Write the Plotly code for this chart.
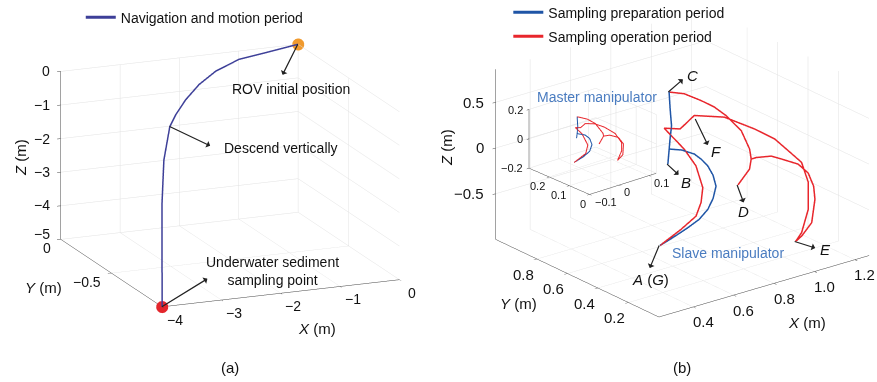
import plotly.graph_objects as go

# ---------------- panel (a): ROV navigation (m) ----------------
nav_x = [0.0, -0.646, -1.176, -1.765, -2.294, -2.812, -3.281, -3.622, -3.85, -3.95, -4.0]
nav_y = [0.0, -0.059, -0.105, -0.221, -0.366, -0.538, -0.714, -0.855, -0.93, -0.97, -1.0]
nav_z = [0.0, 0.0, 0.0, 0.0, 0.0, 0.0, 0.0, 0.0, -0.8, -2.0, -5.0]
rov_start = [0.0, 0.0, 0.0]
sample_pt = [-4.0, -1.0, -5.0]
descend_pt = [-3.622, -0.855, 0.0]

# ---------------- panel (b): slave manipulator (m) ----------------
prep_x = [0.386, 0.465, 0.557, 0.629, 0.691, 0.738, 0.775, 0.781, 0.772, 0.752,
          0.728, 0.674, 0.613, 0.578, 0.613, 0.636, 0.668, 0.693, 0.7195]
prep_y = [0.2, 0.22, 0.244, 0.265, 0.29, 0.3175, 0.3475, 0.375, 0.398, 0.415,
          0.4275, 0.4375, 0.44, 0.4025, 0.44, 0.465, 0.4975, 0.54, 0.5818]
prep_z = [-0.478, -0.458, -0.429, -0.401, -0.351, -0.282, -0.198, -0.103, -0.013, 0.060,
          0.121, 0.192, 0.240, 0.127, 0.240, 0.315, 0.412, 0.549, 0.682]

op_x = [0.7195, 0.791, 0.861, 0.914, 0.957, 1.004, 1.011, 1.000, 0.973, 0.886,
        0.973, 1.000, 1.028, 1.105, 1.150, 1.223, 1.256, 1.258, 1.240, 1.180,
        1.105, 1.065, 1.112, 1.188, 1.239, 1.243, 1.199, 1.154, 1.073, 0.946,
        0.800, 0.705, 0.627, 0.687, 0.714, 0.707, 0.671, 0.620, 0.520, 0.386]
op_y = [0.5818, 0.5775, 0.5608, 0.545, 0.5233, 0.4858, 0.44, 0.415, 0.39, 0.3508,
        0.39, 0.415, 0.4188, 0.4225, 0.415, 0.4025, 0.38, 0.3475, 0.315, 0.2568,
        0.2233, 0.21, 0.2325, 0.29, 0.3575, 0.4068, 0.4358, 0.465, 0.49, 0.5193,
        0.5233, 0.49, 0.4918, 0.44, 0.3983, 0.3443, 0.3075, 0.2733, 0.24, 0.2]
op_z = [0.682, 0.621, 0.515, 0.424, 0.318, 0.153, -0.017, -0.100, -0.172, -0.258,
        -0.172, -0.100, -0.104, -0.141, -0.196, -0.289, -0.391, -0.509, -0.615, -0.786,
        -0.858, -0.880, -0.830, -0.672, -0.461, -0.286, -0.153, -0.019, 0.123, 0.311,
        0.420, 0.361, 0.418, 0.192, 0.024, -0.166, -0.275, -0.366, -0.421, -0.478]

# key points of the slave trajectory
key_pts = {
    "A": (0.386, 0.2, -0.478),
    "B": (0.578, 0.4025, 0.127),
    "C": (0.7195, 0.5818, 0.682),
    "D": (0.886, 0.3508, -0.258),
    "E": (1.065, 0.21, -0.880),
    "F": (0.800, 0.5233, 0.420),
}

# ---------------- inset: master manipulator (m) ----------------
mprep_x = [-0.043, -0.013, 0.009, 0.017, 0.009, -0.006, -0.033, -0.035, -0.033, -0.031, -0.033]
mprep_y = [0.16] * 11
mprep_z = [-0.114, -0.096, -0.072, -0.031, 0.016, 0.049, 0.076, 0.046, 0.076, 0.120, 0.191]

mop_x = [-0.033, 0.001, 0.028, 0.054, 0.056, 0.041, 0.056, 0.077, 0.106, 0.123, 0.121, 0.103,
         0.117, 0.117, 0.095, 0.059, 0.027, -0.006, -0.021, -0.039, -0.017, 0.003, -0.004, -0.043]
mop_y = [0.16] * 24
mop_z = [0.191, 0.153, 0.106, 0.023, 0.002, -0.042, 0.002, -0.005, -0.039, -0.094, -0.166, -0.194,
         -0.137, -0.082, -0.005, 0.061, 0.104, 0.127, 0.109, 0.121, 0.065, -0.024, -0.078, -0.114]

# axis ranges, ticks and tick labels
a_xr, a_yr, a_zr = [-4, 0], [-1, 0], [-5, 0]
a_xticks, a_xlab = [-4, -3, -2, -1, 0], ["−4", "−3", "−2", "−1", "0"]
a_yticks, a_ylab = [-0.5, 0], ["−0.5", "0"]
a_zticks, a_zlab = [-5, -4, -3, -2, -1, 0], ["−5", "−4", "−3", "−2", "−1", "0"]

b_xr, b_yr, b_zr = [0.23, 1.27], [0, 1.07], [-1, 0.86]
b_xticks, b_xlab = [0.4, 0.6, 0.8, 1.0, 1.2], ["0.4", "0.6", "0.8", "1.0", "1.2"]
b_yticks, b_ylab = [0.2, 0.4, 0.6, 0.8], ["0.2", "0.4", "0.6", "0.8"]
b_zticks, b_zlab = [-0.5, 0, 0.5], ["−0.5", "0", "0.5"]

m_xr, m_yr, m_zr = [-0.1, 0.125], [0, 0.3], [-0.2, 0.2]
m_xticks, m_xlab = [-0.1, 0, 0.1], ["−0.1", "0", "0.1"]
m_yticks, m_ylab = [0, 0.1, 0.2], ["0", "0.1", "0.2"]
m_zticks, m_zlab = [-0.2, 0, 0.2], ["−0.2", "0", "0.2"]

FONT = "Liberation Sans, Arial, sans-serif"
NAV_COL = "#3d3f98"
BLUE = "#1f55a6"
RED = "#e8262c"
TXT_BLUE = "#4a7cc0"

fig = go.Figure()

fig.add_trace(go.Scatter3d(x=nav_x, y=nav_y, z=nav_z, mode="lines",
                           line=dict(color=NAV_COL, width=3),
                           name="Navigation and motion period", scene="scene", legend="legend"))
fig.add_trace(go.Scatter3d(x=[rov_start[0]], y=[rov_start[1]], z=[rov_start[2]], mode="markers",
                           marker=dict(size=7, color="#f09a2e"), showlegend=False, scene="scene"))
fig.add_trace(go.Scatter3d(x=[sample_pt[0]], y=[sample_pt[1]], z=[sample_pt[2]], mode="markers",
                           marker=dict(size=7, color="#e3262c"), showlegend=False, scene="scene"))

fig.add_trace(go.Scatter3d(x=prep_x, y=prep_y, z=prep_z, mode="lines",
                           line=dict(color=BLUE, width=3),
                           name="Sampling preparation period", scene="scene2", legend="legend2"))
fig.add_trace(go.Scatter3d(x=op_x, y=op_y, z=op_z, mode="lines",
                           line=dict(color=RED, width=3),
                           name="Sampling operation period", scene="scene2", legend="legend3"))

fig.add_trace(go.Scatter3d(x=mprep_x, y=mprep_y, z=mprep_z, mode="lines",
                           line=dict(color=BLUE, width=2), showlegend=False, scene="scene3"))
fig.add_trace(go.Scatter3d(x=mop_x, y=mop_y, z=mop_z, mode="lines",
                           line=dict(color=RED, width=2), showlegend=False, scene="scene3"))


def ax3(rng, tickvals, ticklen=4):
    return dict(range=rng, autorange=False, tickvals=tickvals, showticklabels=False,
                showbackground=False, showgrid=True, gridcolor="#e2e2e2", gridwidth=1,
                showline=True, linecolor="#444", linewidth=1, zeroline=False,
                ticks="outside", ticklen=ticklen, tickcolor="#444",
                showspikes=False, title=dict(text=""))


def cam(d, r, shift):
    c = dict(x=shift[0], y=shift[1], z=shift[2])
    e = dict(x=d[0] * r + shift[0], y=d[1] * r + shift[1], z=d[2] * r + shift[2])
    return dict(eye=e, center=c, up=dict(x=0, y=0, z=1), projection=dict(type="orthographic"))


def arrow(p, ax, ay, standoff=0):
    return dict(x=p[0], y=p[1], z=p[2], text="", showarrow=True, ax=ax, ay=ay,
                arrowside="start", arrowhead=2, arrowsize=1, arrowwidth=1.2,
                arrowcolor="#222", standoff=standoff)


def label(p, text, xs, ys, size=14, anchor="center", color="#111"):
    return dict(x=p[0], y=p[1], z=p[2], text=text, showarrow=False, xshift=xs, yshift=ys,
                xanchor=anchor, font=dict(family=FONT, size=size, color=color))


def tick_labels(axis, vals, texts, fixed, xs, ys, anchor, size, extra=None):
    out = []
    for i, (v, t) in enumerate(zip(vals, texts)):
        p = list(fixed)
        p["xyz".index(axis)] = v
        dy = extra[i] if extra else 0
        out.append(label(p, t, xs, ys + dy, size, anchor))
    return out


a_ann = (
    tick_labels("x", a_xticks, a_xlab, [0, a_yr[0], a_zr[0]], 13, -13, "center", 14)
    + tick_labels("y", a_yticks, a_ylab, [a_xr[0], 0, a_zr[0]], -8, -9, "right", 14)
    + tick_labels("z", a_zticks, a_zlab, [a_xr[0], a_yr[1], 0], -9, 0, "right", 14,
                  [5, 1, 0, 0, 0, 0])
    + [
        arrow(rov_start, -16, 32), label(rov_start, "ROV initial position", -7, -45),
        arrow(descend_pt, 42, 20), label(descend_pt, "Descend vertically", 111, -21),
        arrow(sample_pt, 47, -29),
        label(sample_pt, "Underwater sediment<br>sampling point", 111, 36),
    ]
)
b_ann = (
    tick_labels("x", b_xticks, b_xlab, [0, b_yr[0], b_zr[0]], 11, -15, "center", 15)
    + tick_labels("y", b_yticks, b_ylab, [b_xr[0], 0, b_zr[0]], -13, -15, "center", 15)
    + tick_labels("z", b_zticks, b_zlab, [b_xr[0], b_yr[1], 0], -9, 0, "right", 15)
    + [
        arrow(key_pts["C"], 16, -14), label(key_pts["C"], "<i>C</i>", 24, 17, 15),
        arrow(key_pts["B"], 13, 12), label(key_pts["B"], "<i>B</i>", 19, -18, 15),
        arrow(key_pts["F"], 15, 31, 4), label(key_pts["F"], "<i>F</i>", 23, -36, 15),
        arrow(key_pts["D"], 7, 19), label(key_pts["D"], "<i>D</i>", 6, -27, 15),
        arrow(key_pts["E"], 22, 7), label(key_pts["E"], "<i>E</i>", 31, -8, 15),
        arrow(key_pts["A"], -10, 24), label(key_pts["A"], "<i>A</i> (<i>G</i>)", -9, -34, 15),
    ]
)
m_ann = (
    tick_labels("x", m_xticks, m_xlab, [0, m_yr[0], m_zr[0]], 3, -7, "left", 11)
    + tick_labels("y", m_yticks, m_ylab, [m_xr[0], 0, m_zr[0]], -2, -9, "right", 11)
    + tick_labels("z", m_zticks, m_zlab, [m_xr[0], m_yr[1], 0], -4, 0, "right", 11)
)


def paper_text(text, px, py, size=15, color="#111", angle=0):
    return dict(text=text, x=px / 877, y=1 - py / 382, xref="paper", yref="paper",
                xanchor="center", yanchor="middle", textangle=angle, showarrow=False,
                font=dict(family=FONT, size=size, color=color))


fig.update_layout(
    width=877, height=382, margin=dict(l=0, r=0, t=0, b=0, autoexpand=False),
    paper_bgcolor="white", plot_bgcolor="white",
    font=dict(family=FONT, size=14, color="#111"),
    scene=dict(domain=dict(x=[0.0, 0.5], y=[0.0, 1.0]),
               xaxis=ax3(a_xr, a_xticks), yaxis=ax3(a_yr, a_yticks), zaxis=ax3(a_zr, a_zticks),
               aspectmode="manual", aspectratio=dict(x=1.345, y=1.385, z=0.915),
               camera=cam((-0.368, -0.888, 0.276), 2.2, (-0.0598, 0.0007, -0.0778)),
               annotations=a_ann),
    scene2=dict(domain=dict(x=[0.5, 1.0], y=[0.0, 1.0]),
                xaxis=ax3(b_xr, b_xticks), yaxis=ax3(b_yr, b_yticks), zaxis=ax3(b_zr, b_zticks),
                aspectmode="manual", aspectratio=dict(x=1.398, y=1.384, z=0.960),
                camera=cam((-0.5726, -0.7303, 0.373), 2.6, (-0.1330, 0.0331, -0.1387)),
                annotations=b_ann),
    scene3=dict(domain=dict(x=[0.55, 0.78], y=[0.45, 0.85]),
                xaxis=ax3(m_xr, m_xticks, 3), yaxis=ax3(m_yr, m_yticks, 3),
                zaxis=ax3(m_zr, m_zticks, 3),
                aspectmode="manual", aspectratio=dict(x=1.148, y=1.217, z=0.827),
                camera=cam((-0.603, -0.706, 0.371), 2.0, (-0.0713, 0.1110, 0.0955)),
                annotations=m_ann),
    legend=dict(x=0.0921, y=0.996, xanchor="left", yanchor="top", bgcolor="rgba(0,0,0,0)",
                font=dict(family=FONT, size=14)),
    legend2=dict(x=0.5796, y=1.009, xanchor="left", yanchor="top", bgcolor="rgba(0,0,0,0)",
                 font=dict(family=FONT, size=14)),
    legend3=dict(x=0.5796, y=0.946, xanchor="left", yanchor="top", bgcolor="rgba(0,0,0,0)",
                 font=dict(family=FONT, size=14)),
    annotations=[
        paper_text("<i>Z</i> (m)", 20, 158, angle=-90),
        paper_text("<i>Y</i> (m)", 43, 287),
        paper_text("<i>X</i> (m)", 317, 328),
        paper_text("(a)", 230, 367),
        paper_text("<i>Z</i> (m)", 446, 148, angle=-90),
        paper_text("<i>Y</i> (m)", 518, 303),
        paper_text("<i>X</i> (m)", 807, 322),
        paper_text("(b)", 682, 367),
        paper_text("Master manipulator", 597, 97, 14, TXT_BLUE),
        paper_text("Slave manipulator", 728, 253, 14, TXT_BLUE),
    ],
)

fig.write_html("out.html", config={"displayModeBar": False},
               post_script="document.body.style.margin='0px';document.body.style.overflow='hidden';")
